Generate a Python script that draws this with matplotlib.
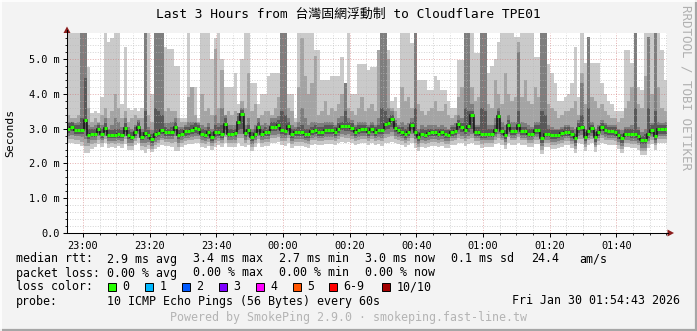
import numpy as np
import matplotlib
matplotlib.use("Agg")
import matplotlib.pyplot as plt
from matplotlib.patches import Rectangle

# one value per 60 s step, 180 steps (about 22:55 .. 01:55), values in ms
median = [3.00, 3.06, 2.97, 2.97, 2.97, 3.25, 2.83, 2.86, 2.86, 3.00, 2.86, 3.03, 2.82, 2.82, 2.82, 2.84, 2.83, 3.02, 2.82, 2.76, 2.91, 3.06, 2.76, 2.88, 2.82, 2.70, 2.84, 2.88, 2.96, 2.89,
          2.89, 2.91, 3.06, 2.82, 2.86, 2.92, 2.94, 2.96, 3.01, 2.98, 2.86, 2.83, 2.90, 2.75, 2.89, 2.91, 2.86, 3.14, 2.86, 2.86, 2.87, 3.20, 3.43, 2.88, 2.95, 2.76, 2.86, 3.05, 2.86, 2.90,
          2.89, 3.05, 3.04, 3.10, 2.96, 2.94, 3.07, 2.84, 2.89, 2.89, 2.91, 2.86, 2.84, 2.93, 2.96, 2.91, 2.91, 2.96, 2.96, 2.96, 2.91, 3.00, 3.07, 3.07, 3.07, 3.03, 2.91, 2.96, 2.98, 2.98,
          2.91, 2.99, 2.91, 2.96, 2.96, 3.12, 3.15, 3.27, 3.02, 2.96, 2.91, 2.86, 2.91, 3.10, 2.91, 2.77, 2.86, 2.83, 2.88, 2.89, 2.89, 2.86, 2.89, 2.84, 2.83, 2.91, 2.93, 3.13, 3.04, 2.96,
          3.07, 3.39, 2.91, 2.91, 2.86, 2.86, 2.86, 2.86, 2.96, 3.36, 2.93, 2.82, 3.10, 2.93, 2.93, 3.10, 2.93, 2.93, 2.86, 2.86, 2.96, 2.96, 2.72, 2.86, 2.86, 2.82, 2.82, 2.83, 2.88, 2.91,
          2.91, 2.84, 2.72, 3.01, 3.06, 2.77, 2.94, 3.01, 2.75, 2.91, 3.04, 2.96, 2.94, 2.94, 2.91, 2.82, 2.72, 2.86, 2.86, 2.84, 2.84, 2.79, 2.67, 2.67, 2.84, 2.96, 2.79, 2.98, 2.98, 2.98]

# smoke: sorted pings (1 = fastest ... 10 = slowest)
ping10 = [6.0, 6.0, 6.0, 6.0, 6.0, 6.0, 4.78, 3.45, 3.5, 3.45, 3.9, 6.0, 5.5, 5.6, 6.0, 6.0, 3.7, 5.35, 3.6, 3.55, 3.6, 3.5, 3.6, 6.0, 6.0, 4.0, 6.0, 6.0, 6.0, 5.35,
          5.3, 5.3, 4.8, 4.8, 3.3, 3.3, 6.0, 4.2, 4.2, 3.3, 6.0, 6.0, 6.0, 5.0, 5.6, 6.0, 5.0, 4.2, 4.2, 4.2, 4.6, 3.7, 5.0, 6.0, 6.0, 4.3, 4.3, 3.7, 4.0, 4.0,
          4.5, 4.6, 4.6, 4.6, 6.0, 6.0, 4.0, 4.0, 3.3, 6.0, 6.0, 6.0, 6.0, 6.0, 5.26, 5.26, 4.4, 4.4, 4.4, 4.5, 4.5, 4.5, 5.07, 4.3, 6.0, 4.0, 4.0, 4.87, 4.87, 4.87,
          4.7, 4.77, 4.77, 5.26, 6.0, 6.0, 5.26, 3.8, 3.9, 3.6, 6.0, 6.0, 6.0, 5.45, 6.0, 4.4, 4.4, 4.4, 4.1, 4.1, 4.5, 4.4, 4.1, 4.1, 3.8, 3.6, 3.6, 4.97, 4.97, 6.0,
          6.0, 6.0, 5.17, 5.17, 6.0, 6.0, 4.6, 4.8, 5.0, 5.5, 6.0, 6.0, 6.0, 6.0, 5.63, 5.63, 6.0, 6.0, 6.0, 6.0, 5.06, 5.06, 6.0, 6.0, 4.87, 4.6, 4.3, 3.8, 3.8, 3.9,
          4.0, 4.3, 5.35, 3.9, 5.75, 4.9, 5.64, 4.9, 4.9, 4.9, 4.3, 4.0, 3.8, 3.7, 3.5, 3.5, 3.5, 5.26, 5.26, 4.9, 6.0, 4.2, 4.1, 6.0, 6.0, 6.0, 6.0, 6.0, 5.26, 4.4]

ping9 = [3.4, 3.3, 3.3, 3.4, 6.0, 6.0, 3.6, 3.2, 3.3, 3.2, 3.4, 3.6, 3.3, 3.5, 4.0, 3.6, 3.3, 3.5, 3.2, 3.3, 3.4, 3.3, 3.3, 6.0, 3.4, 3.2, 6.0, 6.0, 6.0, 3.5,
         3.6, 3.5, 3.5, 3.3, 3.2, 3.2, 3.9, 4.2, 3.4, 3.2, 4.0, 3.5, 3.6, 3.4, 5.3, 3.6, 4.7, 3.3, 3.5, 3.4, 3.5, 3.3, 3.8, 3.6, 4.6, 3.5, 3.7, 3.3, 3.4, 3.5,
         3.5, 3.4, 3.6, 3.9, 6.0, 6.0, 3.6, 3.5, 3.2, 4.2, 5.6, 4.5, 4.0, 4.3, 5.1, 3.4, 3.5, 3.8, 3.4, 3.6, 3.5, 3.7, 4.0, 4.3, 3.6, 3.5, 3.4, 3.6, 3.9, 3.5,
         3.6, 3.7, 3.5, 5.26, 6.0, 6.0, 5.0, 3.6, 3.5, 3.3, 4.2, 3.8, 3.9, 3.6, 6.0, 3.7, 3.5, 3.4, 3.5, 3.6, 3.8, 3.5, 3.5, 3.7, 3.4, 3.3, 3.4, 3.9, 4.2, 6.0,
         6.0, 4.2, 3.8, 3.9, 6.0, 6.0, 3.7, 3.6, 4.4, 4.0, 3.7, 4.6, 4.0, 3.8, 3.9, 5.5, 3.9, 4.4, 3.8, 3.7, 4.2, 3.9, 6.0, 6.0, 3.7, 3.6, 3.5, 3.3, 3.4, 3.5,
         3.5, 3.6, 3.8, 3.4, 4.6, 3.7, 5.64, 3.9, 3.8, 3.6, 3.7, 3.5, 3.4, 3.3, 3.3, 3.2, 3.3, 3.6, 3.8, 4.2, 5.75, 3.7, 3.6, 4.5, 5.64, 4.0, 6.0, 4.2, 3.6, 3.5]

ping8 = [3.2, 3.2, 3.15, 3.2, 6.0, 6.0, 3.1, 3.05, 3.1, 3.15, 3.1, 3.3, 3.0, 3.1, 3.3, 3.2, 3.05, 3.3, 3.05, 3.0, 3.1, 3.25, 3.0, 6.0, 3.05, 2.95, 6.0, 6.0, 6.0, 3.15,
         3.15, 3.2, 3.3, 3.05, 3.05, 3.1, 3.2, 3.2, 3.2, 3.15, 3.1, 3.05, 3.15, 3.0, 3.4, 3.15, 3.6, 3.4, 3.1, 3.1, 3.1, 3.45, 3.6, 3.1, 3.3, 3.0, 3.1, 3.3, 3.1, 3.15,
         3.1, 3.3, 3.3, 3.35, 6.0, 6.0, 3.3, 3.1, 3.05, 3.2, 3.6, 3.3, 3.1, 3.2, 3.2, 3.15, 3.15, 3.2, 3.2, 3.2, 3.1, 3.3, 3.35, 4.3, 3.3, 3.25, 3.1, 3.2, 3.2, 3.2,
         3.1, 3.2, 3.1, 3.3, 6.0, 6.0, 3.6, 3.5, 3.25, 3.1, 3.2, 3.1, 3.15, 3.3, 5.75, 3.0, 3.1, 3.05, 3.1, 3.1, 3.1, 3.05, 3.1, 3.05, 3.0, 3.1, 3.15, 3.4, 3.3, 6.0,
         6.0, 3.7, 3.1, 3.1, 6.0, 6.0, 3.1, 3.1, 3.3, 3.6, 3.2, 3.1, 3.4, 3.2, 3.2, 5.2, 3.2, 3.15, 3.1, 3.05, 3.2, 3.2, 6.0, 6.0, 3.1, 3.05, 3.0, 3.0, 3.05, 3.1,
         3.1, 3.05, 3.0, 3.25, 4.3, 3.0, 5.64, 3.2, 3.0, 3.1, 3.25, 3.15, 3.1, 3.1, 3.1, 3.0, 2.95, 3.05, 3.05, 3.1, 5.75, 3.05, 2.9, 3.0, 5.64, 3.15, 6.0, 3.2, 3.15, 3.2]

ping7 = [3.15, 3.2, 3.1, 3.1, 3.3, 4.45, 3.0, 3.0, 3.0, 3.1, 3.0, 3.15, 2.95, 2.95, 3.0, 3.0, 2.95, 3.15, 2.95, 2.9, 3.05, 3.2, 2.9, 3.5, 2.95, 2.85, 3.6, 3.5, 3.4, 3.05,
         3.0, 3.05, 3.2, 2.95, 3.0, 3.05, 3.05, 3.1, 3.15, 3.1, 3.0, 2.95, 3.05, 2.9, 3.1, 3.05, 3.1, 3.3, 3.0, 3.0, 3.0, 3.35, 3.55, 3.0, 3.1, 2.9, 3.0, 3.2, 3.0, 3.05,
         3.0, 3.2, 3.2, 3.25, 3.5, 3.4, 3.2, 3.0, 3.0, 3.05, 3.1, 3.0, 3.0, 3.05, 3.1, 3.05, 3.05, 3.1, 3.1, 3.1, 3.05, 3.15, 3.2, 3.5, 3.2, 3.15, 3.05, 3.1, 3.1, 3.1,
         3.05, 3.1, 3.05, 3.1, 3.6, 3.5, 3.3, 3.4, 3.15, 3.05, 3.05, 3.0, 3.05, 3.2, 3.6, 2.9, 3.0, 2.95, 3.0, 3.0, 3.0, 3.0, 3.0, 2.95, 2.95, 3.05, 3.05, 3.25, 3.15, 3.6,
         3.5, 3.5, 3.05, 3.05, 3.6, 3.5, 3.0, 3.0, 3.1, 3.5, 3.05, 2.95, 3.25, 3.05, 3.05, 3.5, 3.05, 3.05, 3.0, 3.0, 3.1, 3.1, 3.5, 3.4, 3.0, 2.95, 2.95, 2.95, 3.0, 3.05,
         3.05, 2.95, 2.85, 3.15, 3.4, 2.9, 3.6, 3.1, 2.9, 3.05, 3.15, 3.1, 3.05, 3.05, 3.05, 2.95, 2.85, 3.0, 3.0, 3.0, 3.6, 2.95, 2.8, 2.85, 3.6, 3.1, 3.5, 3.1, 3.1, 3.1]

ping4 = [2.88, 2.92, 2.85, 2.86, 2.85, 2.95, 2.7, 2.75, 2.75, 2.88, 2.74, 2.9, 2.72, 2.72, 2.72, 2.74, 2.72, 2.9, 2.7, 2.66, 2.8, 2.94, 2.66, 2.76, 2.7, 2.6, 2.72, 2.76, 2.84, 2.78,
         2.78, 2.8, 2.92, 2.7, 2.75, 2.8, 2.83, 2.85, 2.88, 2.86, 2.75, 2.72, 2.78, 2.65, 2.77, 2.8, 2.74, 2.95, 2.75, 2.75, 2.76, 2.95, 3.0, 2.76, 2.84, 2.65, 2.75, 2.9, 2.75, 2.78,
         2.78, 2.92, 2.92, 2.95, 2.84, 2.82, 2.93, 2.72, 2.78, 2.78, 2.8, 2.74, 2.72, 2.82, 2.85, 2.8, 2.8, 2.85, 2.85, 2.85, 2.8, 2.88, 2.95, 2.92, 2.94, 2.9, 2.8, 2.85, 2.87, 2.87,
         2.8, 2.88, 2.8, 2.85, 2.84, 2.95, 2.98, 3.05, 2.9, 2.85, 2.8, 2.74, 2.8, 2.96, 2.8, 2.65, 2.75, 2.72, 2.77, 2.78, 2.78, 2.75, 2.78, 2.73, 2.72, 2.8, 2.82, 2.95, 2.9, 2.84,
         2.9, 3.0, 2.8, 2.8, 2.74, 2.74, 2.75, 2.75, 2.85, 3.0, 2.82, 2.7, 2.95, 2.82, 2.82, 2.95, 2.82, 2.82, 2.75, 2.75, 2.85, 2.85, 2.6, 2.75, 2.75, 2.7, 2.7, 2.72, 2.77, 2.8,
         2.8, 2.72, 2.6, 2.88, 2.92, 2.65, 2.82, 2.88, 2.62, 2.8, 2.92, 2.85, 2.83, 2.83, 2.8, 2.7, 2.6, 2.75, 2.75, 2.72, 2.72, 2.68, 2.55, 2.55, 2.72, 2.85, 2.68, 2.86, 2.86, 2.86]

ping3 = [2.8, 2.82, 2.78, 2.78, 2.75, 2.7, 2.6, 2.66, 2.68, 2.78, 2.66, 2.8, 2.64, 2.65, 2.64, 2.66, 2.64, 2.8, 2.6, 2.58, 2.72, 2.85, 2.58, 2.6, 2.62, 2.5, 2.62, 2.66, 2.74, 2.7,
         2.7, 2.7, 2.8, 2.6, 2.66, 2.72, 2.74, 2.76, 2.8, 2.78, 2.66, 2.64, 2.7, 2.58, 2.68, 2.72, 2.66, 2.85, 2.66, 2.66, 2.68, 2.85, 2.86, 2.68, 2.75, 2.56, 2.66, 2.8, 2.66, 2.7,
         2.7, 2.82, 2.82, 2.85, 2.74, 2.72, 2.82, 2.64, 2.7, 2.7, 2.7, 2.66, 2.64, 2.74, 2.76, 2.72, 2.72, 2.76, 2.76, 2.76, 2.72, 2.8, 2.85, 2.82, 2.84, 2.8, 2.72, 2.76, 2.78, 2.78,
         2.72, 2.78, 2.72, 2.76, 2.74, 2.85, 2.86, 2.9, 2.8, 2.76, 2.72, 2.66, 2.72, 2.85, 2.7, 2.56, 2.66, 2.64, 2.68, 2.7, 2.7, 2.66, 2.7, 2.64, 2.64, 2.72, 2.74, 2.85, 2.8, 2.74,
         2.8, 2.85, 2.72, 2.72, 2.66, 2.66, 2.66, 2.66, 2.76, 2.85, 2.74, 2.62, 2.85, 2.74, 2.74, 2.85, 2.74, 2.74, 2.66, 2.66, 2.76, 2.76, 2.5, 2.66, 2.66, 2.62, 2.62, 2.64, 2.68, 2.72,
         2.72, 2.64, 2.5, 2.8, 2.82, 2.56, 2.74, 2.8, 2.54, 2.72, 2.82, 2.76, 2.74, 2.74, 2.72, 2.62, 2.5, 2.66, 2.66, 2.64, 2.64, 2.6, 2.45, 2.45, 2.64, 2.76, 2.6, 2.78, 2.78, 2.78]

ping2 = [2.7, 2.7, 2.68, 2.68, 2.62, 2.5, 2.5, 2.56, 2.6, 2.68, 2.58, 2.7, 2.56, 2.58, 2.56, 2.6, 2.56, 2.7, 2.5, 2.5, 2.64, 2.74, 2.5, 2.48, 2.54, 2.42, 2.54, 2.58, 2.66, 2.62,
         2.62, 2.6, 2.62, 2.46, 2.58, 2.64, 2.66, 2.68, 2.7, 2.7, 2.58, 2.56, 2.62, 2.5, 2.6, 2.64, 2.58, 2.75, 2.58, 2.58, 2.6, 2.74, 2.72, 2.6, 2.66, 2.48, 2.58, 2.7, 2.58, 2.62,
         2.62, 2.72, 2.72, 2.75, 2.64, 2.64, 2.72, 2.56, 2.62, 2.62, 2.62, 2.58, 2.56, 2.66, 2.68, 2.64, 2.64, 2.68, 2.68, 2.68, 2.64, 2.7, 2.75, 2.72, 2.74, 2.7, 2.64, 2.68, 2.7, 2.7,
         2.64, 2.7, 2.64, 2.68, 2.64, 2.74, 2.75, 2.78, 2.7, 2.68, 2.64, 2.58, 2.64, 2.74, 2.6, 2.48, 2.58, 2.56, 2.6, 2.62, 2.62, 2.58, 2.62, 2.56, 2.56, 2.64, 2.66, 2.74, 2.7, 2.64,
         2.7, 2.72, 2.64, 2.64, 2.56, 2.58, 2.58, 2.58, 2.68, 2.72, 2.66, 2.54, 2.75, 2.66, 2.66, 2.75, 2.66, 2.66, 2.58, 2.58, 2.68, 2.68, 2.4, 2.58, 2.58, 2.54, 2.54, 2.56, 2.6, 2.64,
         2.64, 2.56, 2.42, 2.7, 2.7, 2.48, 2.66, 2.7, 2.46, 2.64, 2.72, 2.68, 2.66, 2.66, 2.64, 2.54, 2.42, 2.58, 2.58, 2.56, 2.56, 2.52, 2.36, 2.36, 2.56, 2.68, 2.52, 2.7, 2.7, 2.7]

ping1 = [2.6, 2.58, 2.55, 2.55, 2.5, 2.3, 2.3, 2.42, 2.48, 2.56, 2.46, 2.58, 2.44, 2.46, 2.44, 2.5, 2.44, 2.56, 2.38, 2.4, 2.52, 2.6, 2.4, 2.3, 2.42, 2.32, 2.42, 2.46, 2.54, 2.5,
         2.5, 2.46, 2.35, 2.35, 2.46, 2.52, 2.55, 2.56, 2.58, 2.58, 2.46, 2.44, 2.5, 2.38, 2.48, 2.52, 2.46, 2.6, 2.46, 2.46, 2.48, 2.6, 2.5, 2.48, 2.54, 2.36, 2.46, 2.58, 2.46, 2.5,
         2.5, 2.6, 2.6, 2.62, 2.52, 2.5, 2.6, 2.44, 2.5, 2.5, 2.5, 2.46, 2.44, 2.54, 2.56, 2.52, 2.52, 2.56, 2.56, 2.56, 2.52, 2.58, 2.62, 2.6, 2.62, 2.58, 2.52, 2.56, 2.58, 2.58,
         2.52, 2.58, 2.52, 2.56, 2.5, 2.6, 2.6, 2.62, 2.58, 2.56, 2.52, 2.46, 2.52, 2.6, 2.45, 2.36, 2.46, 2.44, 2.48, 2.5, 2.5, 2.46, 2.5, 2.44, 2.44, 2.52, 2.54, 2.6, 2.58, 2.5,
         2.56, 2.58, 2.52, 2.52, 2.44, 2.46, 2.46, 2.46, 2.56, 2.58, 2.54, 2.42, 2.6, 2.54, 2.54, 2.6, 2.54, 2.54, 2.46, 2.46, 2.56, 2.56, 2.28, 2.46, 2.46, 2.42, 2.42, 2.44, 2.48, 2.52,
         2.52, 2.44, 2.3, 2.58, 2.56, 2.36, 2.54, 2.58, 2.34, 2.52, 2.6, 2.56, 2.54, 2.54, 2.52, 2.42, 2.3, 2.46, 2.46, 2.44, 2.44, 2.4, 2.24, 2.24, 2.44, 2.56, 2.4, 2.58, 2.58, 2.58]

# axis: minutes after 22:00
x_start = 55.2
x_ticks = [60, 80, 100, 120, 140, 160, 180, 200, 220]
x_labels = ["23:00", "23:20", "23:40", "00:00", "00:20", "00:40", "01:00", "01:20", "01:40"]
y_ticks = [0, 1, 2, 3, 4, 5]
y_labels = ["0.0", "1.0 m", "2.0 m", "3.0 m", "4.0 m", "5.0 m"]

loss_labels = ["0", "1", "2", "3", "4", "5", "6-9", "10/10"]
loss_colors = ["#26ff00", "#00b8ff", "#0059ff", "#7e00ff", "#ff00ff", "#ff5500", "#ff0000", "#a10000"]

W, H = 697, 331
mono = "DejaVu Sans Mono"
fig = plt.figure(figsize=(W / 100, H / 100), dpi=100, facecolor="#f3f3f3")

ax = fig.add_axes([67 / W, 1 - 233 / H, 600 / W, 200 / H])
ax.set_facecolor("white")
ax.set_xlim(x_start, x_start + 180)
ax.set_ylim(0, 5.75)
for s in ax.spines.values():
    s.set_visible(False)

n = len(median)
edges = x_start + np.arange(n + 1)
ext = lambda a: np.append(a, a[-1])

upper = np.maximum.accumulate(np.array([median, ping7, ping8, ping9, ping10]), axis=0)
lower = np.minimum.accumulate(np.array([median, ping4, ping3, ping2, ping1]), axis=0)
shades = ["#585858", "#7e7e7e", "#a4a4a4", "#cacaca"]
for i in range(4, 0, -1):
    ax.fill_between(edges, ext(lower[i]), ext(upper[i]), step="post",
                    color=shades[i - 1], lw=0, zorder=1)

# grid
dots = (0, (1.0, 1.6))
for y in np.arange(0.2, 5.75, 0.2):
    if abs(y - round(y)) > 0.01:
        ax.axhline(y, color="#b8b8b8", alpha=0.6, lw=0.7, ls=dots, zorder=1.5)
for y in y_ticks[1:]:
    ax.axhline(y, color="#d07070", alpha=0.55, lw=0.7, ls=dots, zorder=1.5)
for x in np.arange(60, 236, 5):
    if x not in x_ticks:
        ax.axvline(x, color="#b8b8b8", alpha=0.6, lw=0.7, ls=dots, zorder=1.5)
for x in x_ticks:
    ax.axvline(x, color="#d07070", alpha=0.55, lw=0.7, ls=dots, zorder=1.5)

# median line
ax.stairs(median, edges, baseline=None, color="#111111", lw=1.1, zorder=3)
ax.hlines(median, edges[:-1], edges[1:], color="#26ff00", lw=2.2, zorder=4,
          capstyle="butt")

ax.set_xticks(x_ticks)
ax.set_xticklabels(x_labels, family=mono, fontsize=7.4)
ax.set_xticks(np.arange(60, 236, 5), minor=True)
ax.set_yticks(y_ticks)
ax.set_yticklabels(y_labels, family=mono, fontsize=7.4)
ax.set_yticks(np.arange(0.2, 5.75, 0.2), minor=True)
ax.tick_params(which="major", length=3, width=0.7, pad=2.5)
ax.tick_params(which="minor", length=1.5, width=0.6)

# overlay in pixel coordinates for axes arrows, frame and legend
ov = fig.add_axes([0, 0, 1, 1])
ov.set_xlim(0, W)
ov.set_ylim(H, 0)
ov.axis("off")

ov.plot([67, 67], [233, 30], color="black", lw=0.75)
ov.plot([64, 668], [233, 233], color="black", lw=0.75)
ov.fill([63.5, 70.5, 67], [33, 33, 26.5], color="#8b1c1c", lw=0)
ov.fill([667.5, 667.5, 674], [229.5, 236.5, 233], color="#8b1c1c", lw=0)

ov.plot([0, W], [330.3, 330.3], color="#a6a6a6", lw=1.6)
ov.plot([696.3, 696.3], [0, H], color="#a6a6a6", lw=1.6)
ov.plot([0, W], [0.5, 0.5], color="white", lw=1.2)
ov.plot([0.5, 0.5], [0, H], color="white", lw=1.2)

ov.text(348.5, 14, "Last 3 Hours from 台灣固網浮動制 to Cloudflare TPE01",
        ha="center", va="center", fontsize=9.3, family=[mono, "Noto Sans CJK TC"])
ov.text(10, 133, "Seconds", rotation=90, ha="center", va="center",
        fontsize=8.2, family=mono)
ov.text(686, 5, "RRDTOOL / TOBI OETIKER", rotation=270, ha="center", va="top",
        fontsize=9.0, family=mono, color="#b0b0b0")

fs = 8.4
rows = [
    (259, [("median rtt:", 16), ("2.9 ms avg", 107), ("3.4 ms max", 193), ("2.7 ms min", 279),
           ("3.0 ms now", 365), ("0.1 ms sd", 451), ("24.4", 531), ("am/s", 579)]),
    (273, [("packet loss:", 16), ("0.00 % avg", 107), ("0.00 % max", 193),
           ("0.00 % min", 279), ("0.00 % now", 365)]),
    (287, [("loss color:", 16)]),
    (301, [("probe:", 16), ("10 ICMP Echo Pings (56 Bytes) every 60s", 107)]),
]
for y, items in rows:
    for txt, x in items:
        ov.text(x, y, txt, ha="left", va="center", fontsize=fs, family=mono)

box_x = [108, 145, 182, 219, 256, 293, 329, 382]
for bx, lab, c in zip(box_x, loss_labels, loss_colors):
    ov.add_patch(Rectangle((bx, 283), 8, 8, facecolor=c, edgecolor="black", lw=0.7))
    ov.text(bx + 14.5, 287, lab, ha="left", va="center", fontsize=fs, family=mono)

ov.text(680, 301, "Fri Jan 30 01:54:43 2026", ha="right", va="center",
        fontsize=fs, family=mono)
ov.text(348.5, 318, "Powered by SmokePing 2.9.0 · smokeping.fast-line.tw",
        ha="center", va="center", fontsize=fs, family=mono, color="#b4b4b4")

fig.savefig("out.png", dpi=100, facecolor=fig.get_facecolor())
